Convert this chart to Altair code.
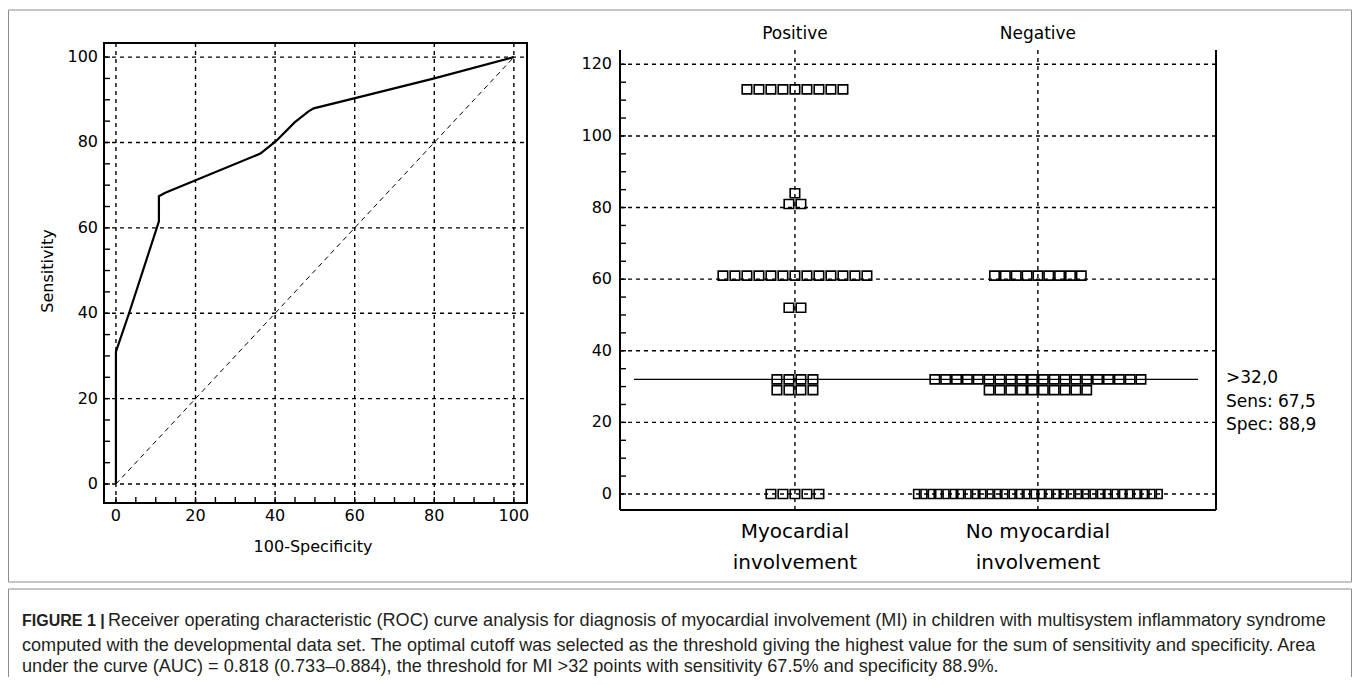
import altair as alt
import pandas as pd

# ---------------- data ----------------
# ROC curve (100-Specificity, Sensitivity)
roc_fpr = [0, 0, 3.3, 10.8, 10.8, 12.4, 36.3, 40.2, 44.9, 48.4, 49.7, 60.1, 80, 100]
roc_sens = [0, 31, 40, 61.5, 67.4, 68.2, 77.4, 80.3, 84.7, 87.3, 88.0, 90.4, 95, 100]
diag = [0, 100]

roc_ticks = [0, 20, 40, 60, 80, 100]
roc_minor = list(range(0, 101, 5))

# Dot plot: values and number of cases at each value
categories = ["Positive", "Negative"]
cat_labels = ["Myocardial\ninvolvement", "No myocardial\ninvolvement"]
pos_values = [113, 84, 81, 61, 52, 32, 29, 0]
pos_counts = [9, 1, 2, 13, 2, 4, 4, 5]
neg_values = [61, 32, 29, 0]
neg_counts = [9, 20, 10, 34]
dot_ticks = [0, 20, 40, 60, 80, 100, 120]
dot_minor = list(range(0, 121, 5))
cutoff = [32]
cut_text = [">32,0", "Sens: 67,5", "Spec: 88,9"]

cap_bold = "FIGURE 1 |"
cap_lines = [
    "Receiver operating characteristic (ROC) curve analysis for diagnosis of myocardial involvement (MI) in children with multisystem inflammatory syndrome",
    "computed with the developmental data set. The optimal cutoff was selected as the threshold giving the highest value for the sum of sensitivity and specificity. Area",
    "under the curve (AUC) = 0.818 (0.733\u20130.884), the threshold for MI >32 points with sensitivity 67.5% and specificity 88.9%.",
]

# ---------------- layout (chart pixel coordinates) ----------------
W, H = 1344, 669
L_X_DOM, L_X_RNG = [-3.0, 103.3], [96, 519]
L_Y_DOM, L_Y_RNG = [-4.45, 103.3], [495, 35]
R_X_DOM, R_X_RNG = [-0.72, 1.733], [612, 1208]
R_Y_DOM, R_Y_RNG = [-4.47, 124.0], [502, 42]
PX_PER_CAT = (R_X_RNG[1] - R_X_RNG[0]) / (R_X_DOM[1] - R_X_DOM[0])

FONT = "DejaVu Sans"
CAP_FONT = "Liberation Sans"
GRID = dict(color="black", strokeWidth=1.4, strokeDash=[4, 4])


def sc(dom, rng):
    return alt.Scale(domain=dom, range=rng, nice=False, zero=False)


def lx(f):
    return alt.X(f, type="quantitative", scale=sc(L_X_DOM, L_X_RNG), axis=None)


def ly(f):
    return alt.Y(f, type="quantitative", scale=sc(L_Y_DOM, L_Y_RNG), axis=None)


def rx(f):
    return alt.X(f, type="quantitative", scale=sc(R_X_DOM, R_X_RNG), axis=None)


def ry(f):
    return alt.Y(f, type="quantitative", scale=sc(R_Y_DOM, R_Y_RNG), axis=None)


one = pd.DataFrame({"k": [0]})
layers = []

# ---------- figure boxes ----------
BOX = dict(fill="white", stroke="#8c8c8c", strokeWidth=1)
layers.append(alt.Chart(one).mark_rect(**BOX).encode(
    x=alt.value(0.5), x2=alt.value(1343.5), y=alt.value(2), y2=alt.value(574)))
layers.append(alt.Chart(one).mark_rect(**BOX).encode(
    x=alt.value(0.5), x2=alt.value(1343.5), y=alt.value(581), y2=alt.value(700)))

# ---------- left ROC panel ----------
g = pd.DataFrame({"v": roc_ticks})
m = pd.DataFrame({"v": roc_minor})
layers.append(alt.Chart(g).mark_rule(**GRID).encode(x=lx("v"), y=alt.value(L_Y_RNG[1]), y2=alt.value(L_Y_RNG[0])))
layers.append(alt.Chart(g).mark_rule(**GRID).encode(y=ly("v"), x=alt.value(L_X_RNG[0]), x2=alt.value(L_X_RNG[1])))
layers.append(alt.Chart(m).mark_rule(color="black", strokeWidth=1.4).encode(
    y=ly("v"), x=alt.value(L_X_RNG[0]), x2=alt.value(L_X_RNG[0] + 6)))
layers.append(alt.Chart(m).mark_rule(color="black", strokeWidth=1.4).encode(
    x=lx("v"), y=alt.value(L_Y_RNG[0]), y2=alt.value(L_Y_RNG[0] - 6)))
layers.append(alt.Chart(pd.DataFrame({"x": diag, "y": diag})).mark_line(
    color="black", strokeWidth=1, strokeDash=[5, 4]).encode(x=lx("x"), y=ly("y")))
layers.append(alt.Chart(pd.DataFrame({"x": roc_fpr, "y": roc_sens, "o": list(range(len(roc_fpr)))})).mark_line(
    color="black", strokeWidth=2.2).encode(x=lx("x"), y=ly("y"), order="o:Q"))
layers.append(alt.Chart(one).mark_rect(fill=None, stroke="black", strokeWidth=2).encode(
    x=alt.value(L_X_RNG[0]), x2=alt.value(L_X_RNG[1]), y=alt.value(L_Y_RNG[1]), y2=alt.value(L_Y_RNG[0])))
layers.append(alt.Chart(g).mark_text(font=FONT, fontSize=16, align="right", baseline="middle", color="black").encode(
    y=ly("v"), x=alt.value(L_X_RNG[0] - 6), text="v:Q"))
layers.append(alt.Chart(g).mark_text(font=FONT, fontSize=16, align="center", baseline="middle", color="black").encode(
    x=lx("v"), y=alt.value(508), text="v:Q"))
layers.append(alt.Chart(one).mark_text(font=FONT, fontSize=16, align="center", baseline="middle", color="black", angle=270).encode(
    x=alt.value(40), y=alt.value(263), text=alt.value("Sensitivity")))
layers.append(alt.Chart(one).mark_text(font=FONT, fontSize=16, align="center", baseline="middle", color="black").encode(
    x=alt.value(305), y=alt.value(539), text=alt.value("100-Specificity")))

# ---------- right dot plot panel ----------
rows = []
for gi, (vals, cnts, sp) in enumerate([(pos_values, pos_counts, 12.0), (neg_values, neg_counts, 10.85)]):
    for v, n in zip(vals, cnts):
        step = min(sp, 250.0 / n)
        w = min(9.5, step - 1.5)
        a = (w / 2) / 4.5
        path = f"M{-a:.3f},-1H{a:.3f}V1H{-a:.3f}Z"
        for i in range(n):
            rows.append({"g": gi + (i - (n - 1) / 2) * step / PX_PER_CAT, "v": v, "shape": path})
dots = pd.DataFrame(rows)

rg = pd.DataFrame({"v": dot_ticks})
rm = pd.DataFrame({"v": dot_minor})
cats = pd.DataFrame({"c": [0, 1], "name": categories, "lab": cat_labels})
layers.append(alt.Chart(rg).mark_rule(**GRID).encode(y=ry("v"), x=alt.value(R_X_RNG[0]), x2=alt.value(R_X_RNG[1])))
layers.append(alt.Chart(cats).mark_rule(**GRID).encode(x=rx("c"), y=alt.value(R_Y_RNG[1]), y2=alt.value(R_Y_RNG[0])))
layers.append(alt.Chart(rm).mark_rule(color="black", strokeWidth=1.4).encode(
    y=ry("v"), x=alt.value(R_X_RNG[0]), x2=alt.value(R_X_RNG[0] + 6)))
layers.append(alt.Chart(pd.DataFrame({"v": cutoff})).mark_rule(color="black", strokeWidth=1.4).encode(
    y=ry("v"), x=alt.value(626), x2=alt.value(1190)))
layers.append(alt.Chart(dots).mark_point(filled=False, color="black", strokeWidth=1.6, size=81, opacity=1).encode(
    x=rx("g"), y=ry("v"), shape=alt.Shape("shape:N", scale=None)))
layers.append(alt.Chart(one).mark_rule(color="black", strokeWidth=2).encode(
    x=alt.value(R_X_RNG[0]), y=alt.value(R_Y_RNG[1]), y2=alt.value(R_Y_RNG[0])))
layers.append(alt.Chart(one).mark_rule(color="black", strokeWidth=2).encode(
    x=alt.value(R_X_RNG[1]), y=alt.value(R_Y_RNG[1]), y2=alt.value(R_Y_RNG[0])))
layers.append(alt.Chart(one).mark_rule(color="black", strokeWidth=2).encode(
    y=alt.value(R_Y_RNG[0]), x=alt.value(R_X_RNG[0]), x2=alt.value(R_X_RNG[1])))
layers.append(alt.Chart(rg).mark_text(font=FONT, fontSize=16, align="right", baseline="middle", color="black").encode(
    y=ry("v"), x=alt.value(R_X_RNG[0] - 8), text="v:Q"))
layers.append(alt.Chart(cats).mark_text(font=FONT, fontSize=17, align="center", baseline="middle", color="black").encode(
    x=rx("c"), y=alt.value(26), text="name:N"))
layers.append(alt.Chart(cats).mark_text(font=FONT, fontSize=20, align="center", baseline="middle", color="black",
                                        lineBreak="\n", lineHeight=31).encode(
    x=rx("c"), y=alt.value(524), text="lab:N"))
ct = pd.DataFrame({"t": cut_text, "i": [0, 1, 2]})
layers.append(alt.Chart(ct).mark_text(font=FONT, fontSize=17, align="left", baseline="middle", color="black").encode(
    y=alt.Y("i:Q", scale=alt.Scale(domain=[0, 2], range=[370, 417], nice=False, zero=False), axis=None),
    x=alt.value(1218), text="t:N"))

# ---------- caption (alphabetic baselines) ----------
CAP_Y = [618, 643, 664]
CAP = dict(font=CAP_FONT, align="left", baseline="alphabetic", color="#231f20")
layers.append(alt.Chart(one).mark_text(fontSize=16, fontWeight="bold", **CAP).encode(
    x=alt.value(14), y=alt.value(CAP_Y[0]), text=alt.value(cap_bold)))
layers.append(alt.Chart(one).mark_text(fontSize=18.1, **CAP).encode(
    x=alt.value(100), y=alt.value(CAP_Y[0]), text=alt.value(cap_lines[0])))
layers.append(alt.Chart(one).mark_text(fontSize=18.1, **CAP).encode(
    x=alt.value(14), y=alt.value(CAP_Y[1]), text=alt.value(cap_lines[1])))
layers.append(alt.Chart(one).mark_text(fontSize=18.1, **CAP).encode(
    x=alt.value(14), y=alt.value(CAP_Y[2]), text=alt.value(cap_lines[2])))

chart = alt.layer(*layers).resolve_scale(x="independent", y="independent").properties(
    width=W, height=H, padding=0, autosize=alt.AutoSizeParams(type="none"), background="white"
).configure_view(stroke=None)

chart.save("out.html", embed_options={"renderer": "svg", "actions": False})
